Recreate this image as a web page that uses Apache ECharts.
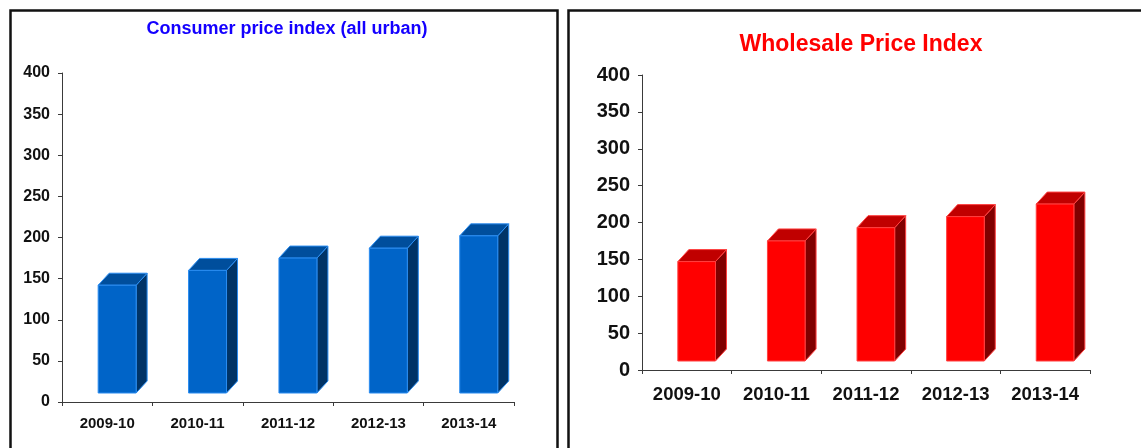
<!DOCTYPE html>
<html>
<head>
<meta charset="utf-8">
<script src="https://cdn.jsdelivr.net/npm/echarts@6/dist/echarts.min.js"></script>
<style>
  html, body { margin: 0; padding: 0; background: #fff; }
  #chart { width: 1141px; height: 448px; }
</style>
</head>
<body>
<div id="chart"></div>
<script>
// data
const years = ["2009-10", "2010-11", "2011-12", "2012-13", "2013-14"];
const cpiUrban = [142, 160, 175, 187, 202];
const wpi = [147, 175, 193, 208, 225];
const yTicks = [0, 50, 100, 150, 200, 250, 300, 350, 400];

const FONT = "Liberation Sans, Arial, sans-serif";

// fake 3D column: front face, top face, side face
function column3D(c) {
  return function (params, api) {
    const v = api.value(1);
    const top = api.coord([api.value(0), v]);
    const base = api.coord([api.value(0), 0]);
    const bw = api.size([1, 0])[0];
    const fl = top[0] - bw * 0.10;
    const fr = top[0] + bw * 0.32;
    const yt = top[1];
    const yb = base[1] - 9;
    const dx = 11, dy = 12;
    return {
      type: "group",
      children: [
        {
          type: "polygon",
          shape: { points: [[fr, yt], [fr + dx, yt - dy], [fr + dx, yb - dy], [fr, yb]] },
          style: { fill: c.side, stroke: c.edge, lineWidth: 1 }
        },
        {
          type: "polygon",
          shape: { points: [[fl, yt], [fl + dx, yt - dy], [fr + dx, yt - dy], [fr, yt]] },
          style: { fill: c.top, stroke: c.edge, lineWidth: 1 }
        },
        {
          type: "rect",
          shape: { x: fl, y: yt, width: fr - fl, height: yb - yt },
          style: { fill: c.front, stroke: c.edge, lineWidth: 1 }
        }
      ]
    };
  };
}

function xAxisOf(idx, size, margin) {
  return {
    type: "category",
    gridIndex: idx,
    data: years,
    axisLine: { lineStyle: { color: "#3a3a3a", width: 1 } },
    axisTick: { show: true, length: 4, lineStyle: { color: "#3a3a3a" } },
    axisLabel: { color: "#111", fontFamily: FONT, fontWeight: "bold", fontSize: size, margin: margin }
  };
}

function yAxisOf(idx, size) {
  return {
    type: "value",
    gridIndex: idx,
    min: yTicks[0],
    max: yTicks[yTicks.length - 1],
    interval: yTicks[1] - yTicks[0],
    splitLine: { show: false },
    axisLine: { show: true, lineStyle: { color: "#3a3a3a", width: 1 } },
    axisTick: { show: true, length: 4, lineStyle: { color: "#3a3a3a" } },
    axisLabel: { color: "#111", fontFamily: FONT, fontWeight: "bold", fontSize: size, margin: 12 }
  };
}

const chart = echarts.init(document.getElementById("chart"), null, { renderer: "canvas" });
chart.setOption({
  animation: false,
  title: [
    {
      text: "Consumer price index (all urban)",
      left: 282, top: 15, textAlign: "center",
      textStyle: { color: "#1400ff", fontFamily: FONT, fontWeight: "bold", fontSize: 18 }
    },
    {
      text: "Wholesale Price Index",
      left: 856, top: 28, textAlign: "center",
      textStyle: { color: "#ff0000", fontFamily: FONT, fontWeight: "bold", fontSize: 23 }
    }
  ],
  grid: [
    { left: 62, top: 73, width: 452, height: 329 },
    { left: 642, top: 75, width: 448, height: 295 }
  ],
  xAxis: [xAxisOf(0, 15, 14), xAxisOf(1, 18.5, 15)],
  yAxis: [yAxisOf(0, 16), yAxisOf(1, 20)],
  series: [
    {
      name: "Consumer price index (all urban)",
      type: "custom",
      xAxisIndex: 0, yAxisIndex: 0,
      encode: { x: 0, y: 1 },
      data: cpiUrban.map((v, i) => [i, v]),
      renderItem: column3D({ front: "#0064c8", top: "#004e9c", side: "#003366", edge: "#2a8cf0" })
    },
    {
      name: "Wholesale Price Index",
      type: "custom",
      xAxisIndex: 1, yAxisIndex: 1,
      encode: { x: 0, y: 1 },
      data: wpi.map((v, i) => [i, v]),
      renderItem: column3D({ front: "#ff0000", top: "#c00000", side: "#800000", edge: "#ff4040" })
    }
  ],
  // the two panel frames
  graphic: [
    {
      type: "rect", left: 8, top: 8,
      shape: { x: 0, y: 0, width: 547, height: 470 },
      style: { fill: null, stroke: "#111", lineWidth: 2.5 }
    },
    {
      type: "rect", left: 566, top: 8,
      shape: { x: 0, y: 0, width: 600, height: 470 },
      style: { fill: null, stroke: "#111", lineWidth: 2.5 }
    }
  ]
});
window.onresize = function () {
  chart.resize();
};
</script>
</body>
</html>
